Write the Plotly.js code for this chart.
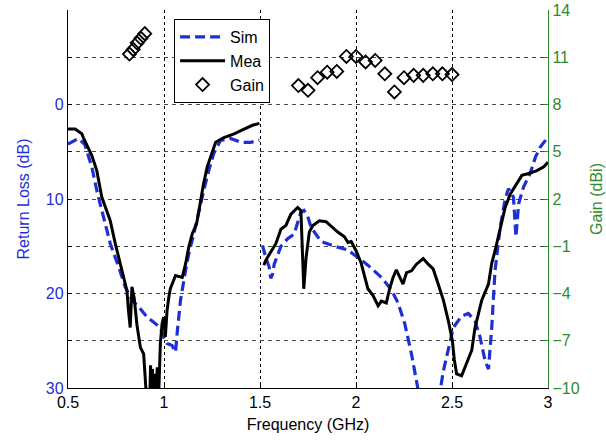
<!DOCTYPE html>
<html>
<head>
<meta charset="utf-8">
<script src="https://cdn.plot.ly/plotly-3.0.1.min.js"></script>
<style>html,body{margin:0;padding:0;background:#fff;}#chart{width:606px;height:444px;}</style>
</head>
<body>
<div id="chart"></div>
<script>
// Measured return loss (dB), two bands separated by a gap at 1.5 GHz
const meaFreq = [0.50,0.537,0.572,0.58,0.624,0.65,0.676,0.72,0.746,0.781,0.807,0.815,0.824,0.833,0.845,0.859,0.877,0.894,0.903,0.912,0.925,0.93,0.935,0.94,0.945,0.952,0.958,0.965,0.972,0.981,0.99,0.998,1.007,1.016,1.025,1.033,1.06,1.095,1.112,1.129,1.147,1.17,1.19,1.205,1.225,1.269,1.312,1.365,1.417,1.461,1.497,
  null,
  1.52,1.530,1.556,1.583,1.609,1.635,1.661,1.696,1.713,1.722,1.728,1.740,1.757,1.775,1.809,1.844,1.870,1.905,1.940,1.958,1.975,2.001,2.027,2.062,2.088,2.115,2.132,2.158,2.175,2.193,2.210,2.228,2.245,2.263,2.289,2.315,2.350,2.376,2.402,2.428,2.455,2.481,2.502,2.512,2.524,2.550,2.576,2.603,2.620,2.655,2.690,2.707,2.724,2.751,2.777,2.803,2.829,2.864,2.899,2.942,2.978,3.0];
const meaRL = [2.6,2.6,3.1,3.5,5.4,7.0,9.8,12.3,14.7,17.6,19.7,21.8,23.6,19.3,20.5,23.3,25.7,26.4,28.9,32,32,27.6,31,28,32,28.5,31,27.8,31,25.3,23.2,22.5,24.6,21.8,20.4,19.5,18.1,18.3,16.9,15.1,13.7,12.6,10.3,8.5,6.6,4.0,3.5,3.1,2.6,2.2,2.0,
  null,
  17.0,16.5,15.6,14.7,13.2,12.8,11.6,10.9,11.2,16.2,19.5,16.2,13.5,12.8,12.3,12.4,12.9,13.5,14.0,14.6,14.5,15.5,16.8,19.5,20.2,21.3,20.8,21.0,19.5,18.3,17.5,18.2,19.0,17.8,17.6,16.9,16.3,16.9,17.4,19.0,20.7,22.9,25.0,27.0,28.5,28.7,27.3,26.0,23.6,20.7,19.0,16.8,15.5,13.0,10.9,9.5,8.6,7.5,7.3,7.0,6.6,6.1];

// Simulated return loss (dB)
const simFreq = [0.50,0.527,0.553,0.587,0.624,0.65,0.685,0.72,0.764,0.798,0.833,0.868,0.912,0.955,0.981,0.998,1.016,1.042,1.06,1.068,1.086,1.112,1.129,1.155,1.181,1.207,1.233,1.259,1.294,1.347,1.399,1.452,1.497,
  null,
  1.513,1.530,1.548,1.556,1.565,1.574,1.609,1.644,1.678,1.696,1.713,1.729,1.748,1.766,1.792,1.818,1.888,1.958,2.010,2.062,2.132,2.184,2.219,2.254,2.289,2.315,2.331,2.38,2.437,2.454,2.481,2.507,2.550,2.585,2.620,2.646,2.672,2.690,2.707,2.724,2.751,2.777,2.794,2.820,2.833,2.847,2.873,2.907,2.934,2.960,2.986,3.0];
const simRL = [4.2,3.9,3.6,4.2,6.6,9.1,11.9,14.7,17.2,19.3,20.7,21.4,22.5,23.2,23.6,24.6,25.3,25.5,26.2,24.3,20.7,17.6,15.8,13.7,11.2,9.1,7.0,5.2,3.8,3.6,4.0,4.0,3.8,
  null,
  14.9,16.2,17.2,18.4,18.0,16.9,15.0,14.2,13.7,12.6,11.4,11.2,11.8,13.0,13.7,14.5,15.0,15.4,16.2,17.0,18.3,19.6,21.0,23.2,26.4,29.4,31,34,30.5,28.3,25.7,23.6,22.4,22.1,22.9,24.6,27.1,28.0,23.6,17.6,13.0,10.0,8.9,9.8,14.0,10.5,8.7,7.3,5.6,4.5,3.8,3.3];

// Measured gain (dBi)
const gainFreq = [0.82,0.84,0.86,0.88,0.90,1.70,1.75,1.80,1.85,1.90,1.95,2.00,2.05,2.10,2.15,2.20,2.25,2.30,2.35,2.40,2.45,2.50];
const gainDBi = [11.2,11.5,11.9,12.2,12.5,9.2,8.9,9.7,10.05,10.1,11.05,11.05,10.7,10.8,9.95,8.8,9.7,9.85,9.85,9.95,9.95,9.9];

const rlTicks = [-10,-5,0,5,10,15,20,25,30];
const rlTickText = ['','','0','','10','','20','','30'];
const gainTicks = [-10,-7,-4,-1,2,5,8,11,14];
const freqTicks = [0.5,1,1.5,2,2.5,3];
const freqTickText = ['0.5','1','1.5','2','2.5','3'];

const BLUE = '#1f2fd6';
const GREEN = '#2e8b2e';
const FONT = 'Arial, "Liberation Sans", sans-serif';

const traces = [
  {x: simFreq, y: simRL, name: 'Sim', mode: 'lines', connectgaps: false,
   line: {color: BLUE, width: 3.2, dash: '10px,5px'}},
  {x: meaFreq, y: meaRL, name: 'Mea', mode: 'lines', connectgaps: false,
   line: {color: '#000', width: 3}},
  {x: gainFreq, y: gainDBi, name: 'Gain', mode: 'markers', yaxis: 'y2',
   marker: {symbol: 'diamond-open', size: 10, color: '#000', line: {width: 1.8, color: '#000'}}}
];

const layout = {
  width: 606, height: 444,
  margin: {l: 68, r: 58, t: 10, b: 56},
  paper_bgcolor: '#fff', plot_bgcolor: '#fff',
  font: {family: FONT, size: 15, color: '#000'},
  showlegend: true,
  legend: {x: 0.221, y: 0.976, xanchor: 'left', yanchor: 'top',
    bgcolor: '#fff', bordercolor: '#000', borderwidth: 1,
    font: {family: FONT, size: 16, color: '#000'}, itemwidth: 45},
  xaxis: {range: [0.5, 3], tickvals: freqTicks, ticktext: freqTickText,
    showline: true, linecolor: '#000', linewidth: 1.2,
    ticks: 'inside', ticklen: 4, tickcolor: '#000',
    showgrid: true, gridcolor: '#000', gridwidth: 1, griddash: 'dot',
    zeroline: false, tickfont: {size: 16, color: '#000'},
    title: {text: 'Frequency (GHz)', font: {size: 16, color: '#000'}, standoff: 8}},
  yaxis: {range: [30, -10], tickvals: rlTicks, ticktext: rlTickText,
    showline: true, linecolor: '#000', linewidth: 1.2,
    ticks: 'inside', ticklen: 4, tickcolor: '#000',
    showgrid: true, gridcolor: '#3d4d3d', gridwidth: 1, griddash: '4px,4px',
    zeroline: false, tickfont: {size: 16, color: BLUE},
    title: {text: 'Return Loss (dB)', font: {size: 16, color: BLUE}, standoff: 12}},
  yaxis2: {range: [-10, 14], tickvals: gainTicks, overlaying: 'y', side: 'right',
    showline: true, linecolor: GREEN, linewidth: 1.2,
    ticks: 'inside', ticklen: 4, tickcolor: GREEN,
    showgrid: false, zeroline: false, tickfont: {size: 16, color: GREEN},
    title: {text: 'Gain (dBi)', font: {size: 16, color: GREEN}, standoff: 12}}
};

Plotly.newPlot('chart', traces, layout, {displayModeBar: false, staticPlot: true});
</script>
</body>
</html>
